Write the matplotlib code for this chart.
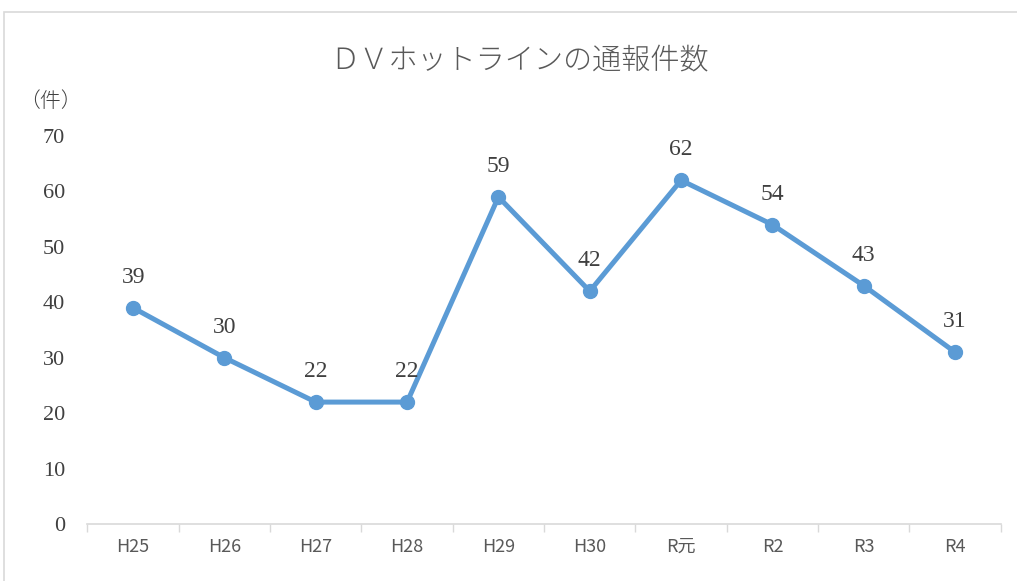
import matplotlib
matplotlib.use("Agg")
import matplotlib.pyplot as plt
from matplotlib.patches import Rectangle

# data
years = ["H25", "H26", "H27", "H28", "H29", "H30", "R元", "R2", "R3", "R4"]
counts = [39, 30, 22, 22, 59, 42, 62, 54, 43, 31]
yticks = [0, 10, 20, 30, 40, 50, 60, 70]

plt.rcParams['font.family'] = ['Noto Sans CJK JP', 'DejaVu Sans']

fig = plt.figure(figsize=(10.17, 5.81), dpi=100)
ax = fig.add_axes([0.086, 0.098, 0.898, 0.668])

x = list(range(len(years)))
ax.plot(x, counts, color="#5B9BD5", lw=3.6, marker="o", ms=10, zorder=3)

for xi, v in zip(x, counts):
    ax.annotate(str(v), (xi, v), xytext=(0, 22), textcoords="offset points",
                ha="center", va="center", fontsize=17, color="#404040",
                family="Liberation Serif")

ax.set_xlim(-0.5, len(years) - 0.5)
ax.set_ylim(0, 70)
ax.set_yticks(yticks)
ax.set_yticklabels([str(t) for t in yticks], family="Liberation Serif",
                   fontsize=16, color="#404040")
ax.tick_params(axis="y", length=0, pad=16)

ax.set_xticks(x)
ax.set_xticklabels(years, fontsize=13, color="#595959")
ax.set_xticks([i - 0.5 for i in range(len(years) + 1)], minor=True)
ax.tick_params(axis="x", which="major", length=0, pad=10)
ax.tick_params(axis="x", which="minor", length=6, color="#d9d9d9", width=1)

for s in ["top", "right", "left"]:
    ax.spines[s].set_visible(False)
ax.spines["bottom"].set_color("#d9d9d9")
ax.spines["bottom"].set_linewidth(1.2)

fig.text(0.511, 0.897, "ＤＶホットラインの通報件数", ha="center", va="center",
         fontsize=21, color="#595959", weight="light")
fig.text(0.050, 0.826, "（件）", ha="center", va="center",
         fontsize=15, color="#404040", weight="light")

fig.patches.append(Rectangle((4 / 1017, -0.01), 1.1, 1 - 12 / 581 + 0.01,
                             transform=fig.transFigure, fill=False,
                             edgecolor="#d9d9d9", lw=1.2))

fig.savefig("out.png", dpi=100)
